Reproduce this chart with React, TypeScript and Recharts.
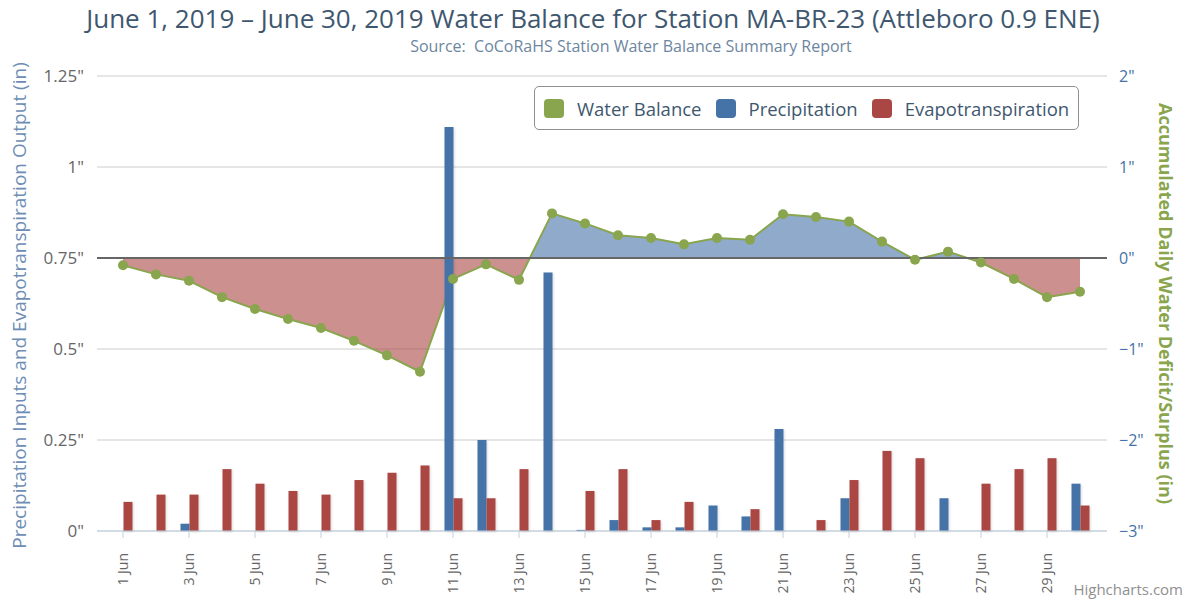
import React from 'react';
import { ComposedChart, Area, Bar, XAxis, YAxis, CartesianGrid, ReferenceLine, Legend } from 'recharts';

const days = [
  '1 Jun', '2 Jun', '3 Jun', '4 Jun', '5 Jun', '6 Jun', '7 Jun', '8 Jun', '9 Jun', '10 Jun',
  '11 Jun', '12 Jun', '13 Jun', '14 Jun', '15 Jun', '16 Jun', '17 Jun', '18 Jun', '19 Jun', '20 Jun',
  '21 Jun', '22 Jun', '23 Jun', '24 Jun', '25 Jun', '26 Jun', '27 Jun', '28 Jun', '29 Jun', '30 Jun',
];

const precipitation = [
  0, 0, 0.02, 0, 0, 0, 0, 0, 0, 0,
  1.11, 0.25, 0, 0.71, 0.003, 0.03, 0.01, 0.01, 0.07, 0.04,
  0.28, 0, 0.09, 0, 0, 0.09, 0, 0, 0, 0.13,
];

const evapotranspiration = [
  0.08, 0.1, 0.1, 0.17, 0.13, 0.11, 0.1, 0.14, 0.16, 0.18,
  0.09, 0.09, 0.17, 0, 0.11, 0.17, 0.03, 0.08, 0, 0.06,
  0, 0.03, 0.14, 0.22, 0.2, 0, 0.13, 0.17, 0.2, 0.07,
];

const waterBalance = [
  -0.08, -0.18, -0.25, -0.43, -0.56, -0.67, -0.77, -0.91, -1.07, -1.25,
  -0.23, -0.07, -0.24, 0.49, 0.38, 0.25, 0.22, 0.15, 0.22, 0.2,
  0.48, 0.45, 0.4, 0.18, -0.02, 0.07, -0.05, -0.23, -0.43, -0.37,
];

const leftTicks = [0, 0.25, 0.5, 0.75, 1, 1.25];
const rightTicks = [-3, -2, -1, 0, 1, 2];
const legendOrder = ['Water Balance', 'Precipitation', 'Evapotranspiration'];

const data = days.map((day, i) => ({
  day,
  precipitation: precipitation[i],
  evapotranspiration: evapotranspiration[i],
  balance: waterBalance[i],
}));

const FONT = '"Open Sans", Arial, sans-serif';
const GREEN = '#89A54E';
const BLUE = '#4572A7';
const RED = '#AA4643';

// plot area edges, used for the split fill of the balance area
const PLOT_TOP = 76;
const PLOT_BOTTOM = 531;
const zeroOffset = 2 / 5;

const DayTick = (props: any) => {
  const { x, y, payload } = props;
  return (
    <g transform={`translate(${x},${y})`}>
      <text x={-13} y={5} transform="rotate(-90)" textAnchor="end" fill="#666" fontSize={14} fontFamily={FONT}>
        {payload.value}
      </text>
    </g>
  );
};

const LegendBox = (props: any) => {
  const items = [...(props.payload || [])].sort(
    (a: any, b: any) => legendOrder.indexOf(a.value) - legendOrder.indexOf(b.value)
  );
  return (
    <div
      style={{
        boxSizing: 'border-box',
        width: 545,
        height: 44,
        border: '1px solid #909090',
        borderRadius: 5,
        background: '#fff',
        display: 'flex',
        alignItems: 'center',
        paddingLeft: 9,
        gap: 14,
        fontFamily: FONT,
        fontSize: 18.5,
        color: '#3E576F',
      }}
    >
      {items.map((entry: any) => (
        <span key={entry.value} style={{ display: 'flex', alignItems: 'center' }}>
          <span
            style={{ width: 20, height: 19, borderRadius: 4, background: entry.color, marginRight: 13, display: 'inline-block' }}
          />
          {entry.value}
        </span>
      ))}
    </div>
  );
};

export default function App() {
  return (
    <div style={{ position: 'absolute', left: 0, top: 0, width: 1190, height: 601, background: '#fff', fontFamily: FONT }}>
      <div style={{ position: 'absolute', left: 0, width: 1186, top: 0, textAlign: 'center', fontSize: 26, color: '#3E576F' }}>
        June 1, 2019 – June 30, 2019 Water Balance for Station MA-BR-23 (Attleboro 0.9 ENE)
      </div>
      <div style={{ position: 'absolute', left: 80, width: 1102, top: 35, textAlign: 'center', fontSize: 16, color: '#6D869F', whiteSpace: 'pre' }}>
        {'Source:  CoCoRaHS Station Water Balance Summary Report'}
      </div>
      <ComposedChart width={1190} height={601} data={data} margin={{ top: 76, right: 0, bottom: 10, left: 0 }} barGap={0}>
        <defs>
          <linearGradient id="balanceFill" gradientUnits="userSpaceOnUse" x1="0" y1={PLOT_TOP} x2="0" y2={PLOT_BOTTOM}>
            <stop offset={zeroOffset} stopColor={BLUE} stopOpacity={0.6} />
            <stop offset={zeroOffset} stopColor={RED} stopOpacity={0.6} />
          </linearGradient>
          <filter id="barShadow" x="-50%" y="-10%" width="200%" height="120%">
            <feDropShadow dx="1" dy="1" stdDeviation="1" floodColor="#000" floodOpacity="0.15" />
          </filter>
        </defs>
        <CartesianGrid yAxisId="left" vertical={false} stroke="#CCCCCC" />
        <XAxis
          dataKey="day"
          interval={1}
          height={60}
          padding={{ left: 9.5, right: 10.5 }}
          axisLine={{ stroke: '#C0D0E0' }}
          tickLine={{ stroke: '#C0D0E0' }}
          tickSize={7}
          tick={<DayTick />}
        />
        <YAxis
          yAxisId="left"
          width={97}
          domain={[0, 1.25]}
          ticks={leftTicks}
          axisLine={false}
          tickLine={false}
          tickSize={0}
          tickMargin={13}
          tickFormatter={(v: number) => `${v}"`}
          tick={{ fill: '#666', fontSize: 17, fontFamily: FONT }}
          label={{
            value: 'Precipitation Inputs and Evapotranspiration Output (in)',
            angle: -90,
            position: 'center',
            dx: -29,
            dy: 2,
            style: { fill: '#6D8DB5', fontSize: 19, fontFamily: FONT, textAnchor: 'middle' },
          }}
        />
        <YAxis
          yAxisId="right"
          orientation="right"
          width={83}
          domain={[-3, 2]}
          ticks={rightTicks}
          axisLine={false}
          tickLine={false}
          tickSize={0}
          tickMargin={12}
          tickFormatter={(v: number) => `${v < 0 ? '\u2212' + Math.abs(v) : v}"`}
          tick={{ fill: BLUE, fontSize: 16, fontFamily: FONT }}
          label={{
            value: 'Accumulated Daily Water Deficit/Surplus (in)',
            angle: 90,
            position: 'center',
            dx: 17,
            style: { fill: GREEN, fontSize: 18, fontWeight: 'bold', fontFamily: FONT, textAnchor: 'middle' },
          }}
        />
        <Legend
          layout="horizontal"
          verticalAlign="middle"
          align="center"
          content={<LegendBox />}
          wrapperStyle={{ left: 534, top: 86, width: 545, height: 44 }}
        />
        <Area
          yAxisId="right"
          type="linear"
          dataKey="balance"
          name="Water Balance"
          baseValue={0}
          stroke={GREEN}
          strokeWidth={2}
          fill="url(#balanceFill)"
          fillOpacity={1}
          dot={{ r: 5, fill: GREEN, stroke: 'none' }}
          activeDot={false}
          isAnimationActive={false}
        />
        <ReferenceLine yAxisId="right" y={0} stroke="#666" strokeWidth={2} />
        <Bar
          yAxisId="left"
          dataKey="precipitation"
          name="Precipitation"
          fill={BLUE}
          barSize={9}
          filter="url(#barShadow)"
          isAnimationActive={false}
        />
        <Bar
          yAxisId="left"
          dataKey="evapotranspiration"
          name="Evapotranspiration"
          fill={RED}
          barSize={9}
          filter="url(#barShadow)"
          isAnimationActive={false}
        />
      </ComposedChart>
      <div style={{ position: 'absolute', right: 7, top: 579, fontSize: 15, color: '#909090' }}>Highcharts.com</div>
    </div>
  );
}
